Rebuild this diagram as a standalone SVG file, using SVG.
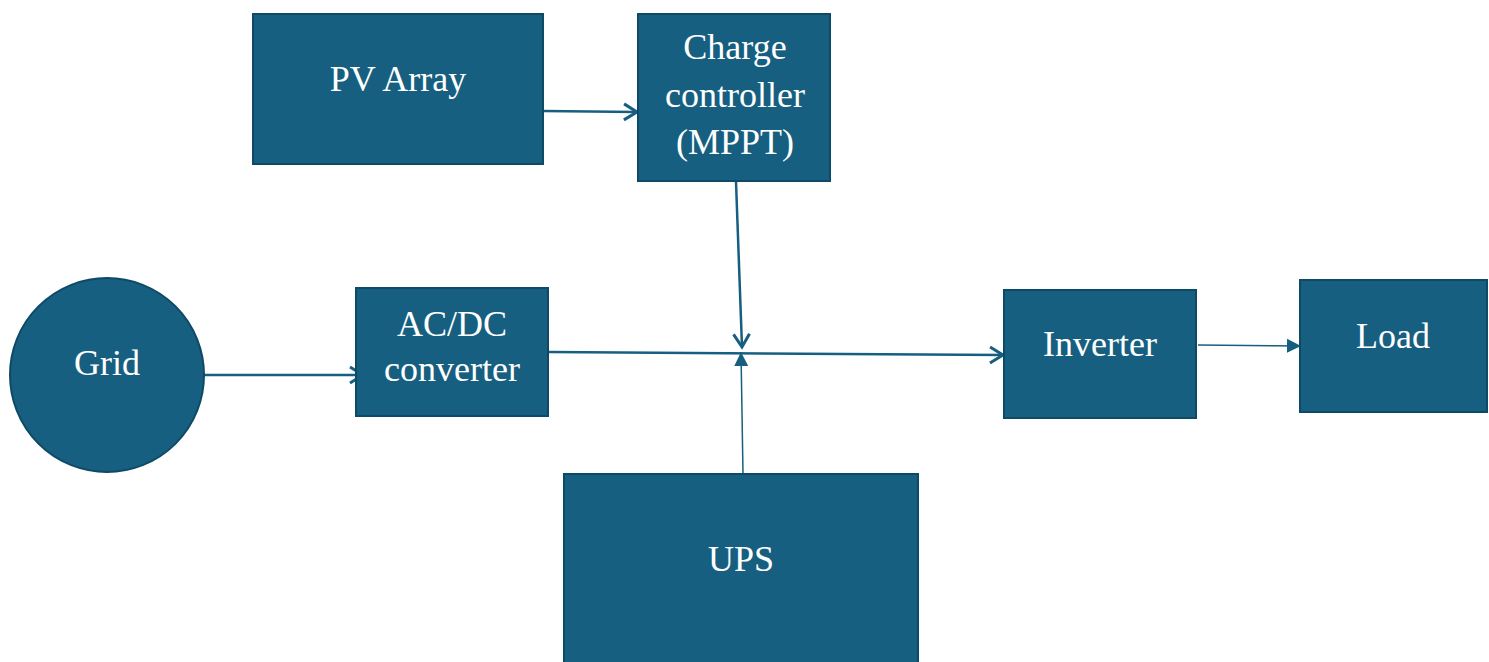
<svg xmlns="http://www.w3.org/2000/svg" width="1489" height="662" viewBox="0 0 1489 662">
<defs>
<style>
.node{fill:#175f80;stroke:#0e4a66;stroke-width:2}
.lbl{font-family:"Liberation Serif","Times New Roman",serif;font-size:36px;fill:#ffffff;text-anchor:middle}
.conn{stroke:#175f80;stroke-width:2.5;fill:none}
.thin{stroke:#175f80;stroke-width:1.5;fill:none}
</style>
<marker id="open" markerWidth="18" markerHeight="20" refX="15" refY="10" orient="auto" markerUnits="userSpaceOnUse">
<path d="M2,2 L15,10 L2,18" fill="none" stroke="#175f80" stroke-width="3"/>
</marker>
<marker id="tri" markerWidth="16" markerHeight="16" refX="14" refY="8" orient="auto" markerUnits="userSpaceOnUse">
<path d="M0,1 L14,8 L0,15 Z" fill="#175f80"/>
</marker>
</defs>
<g id="connectors">
<line class="conn" x1="543" y1="111" x2="637" y2="112" marker-end="url(#open)"/>
<line class="conn" x1="736" y1="182" x2="742" y2="347" marker-end="url(#open)"/>
<line class="conn" x1="549" y1="352" x2="1003" y2="355" marker-end="url(#open)"/>
<line class="conn" x1="204" y1="375" x2="363" y2="375" marker-end="url(#open)"/>
<line class="thin" x1="1198" y1="345" x2="1301" y2="346" marker-end="url(#tri)"/>
<line class="thin" x1="743" y1="474" x2="741" y2="352" marker-end="url(#tri)"/>
</g>
<g id="pv">
<rect class="node" x="253" y="14" width="290" height="150"/>
<text class="lbl" x="398" y="91">PV Array</text>
</g>
<g id="cc">
<rect class="node" x="638" y="14" width="192" height="167"/>
<text class="lbl" x="735" y="59">Charge</text>
<text class="lbl" x="735" y="107">controller</text>
<text class="lbl" x="735" y="154">(MPPT)</text>
</g>
<g id="grid">
<circle class="node" cx="107" cy="375" r="97"/>
<text class="lbl" x="107" y="375">Grid</text>
</g>
<g id="acdc">
<rect class="node" x="356" y="288" width="192" height="128"/>
<text class="lbl" x="452" y="336">AC/DC</text>
<text class="lbl" x="452" y="381">converter</text>
</g>
<g id="inverter">
<rect class="node" x="1004" y="290" width="192" height="128"/>
<text class="lbl" x="1100" y="356">Inverter</text>
</g>
<g id="load">
<rect class="node" x="1300" y="280" width="187" height="132"/>
<text class="lbl" x="1393" y="348">Load</text>
</g>
<g id="ups">
<rect class="node" x="564" y="474" width="354" height="200"/>
<text class="lbl" x="741" y="571">UPS</text>
</g>
</svg>
